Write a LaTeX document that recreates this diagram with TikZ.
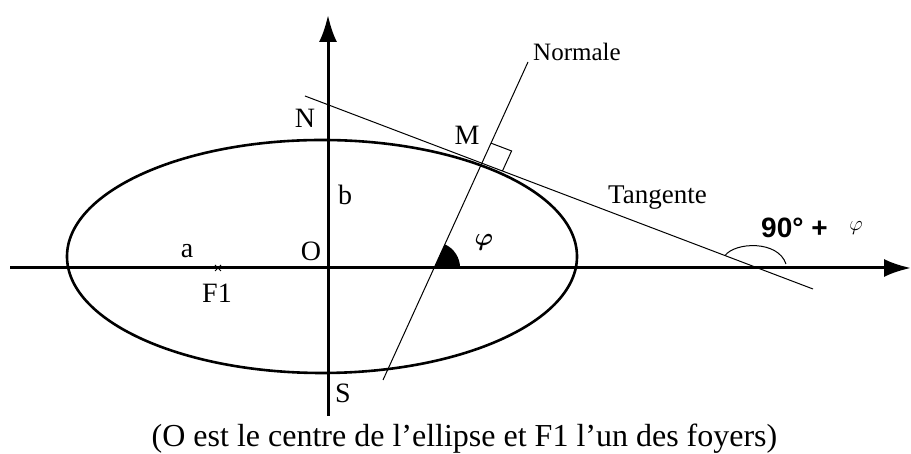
\documentclass[tikz,border=0pt]{standalone}
\usepackage{fontspec}
\usepackage{amsmath}
\setmainfont{Liberation Serif}
\newfontfamily\etiketSans{Liberation Sans}
\usetikzlibrary{arrows.meta,calc,positioning}

\begin{document}
\begin{tikzpicture}[x=1pt, y=1pt, every node/.style={font=\fontsize{28}{32}\selectfont, inner sep=0pt},
  eksen/.style={line width=3pt, -{Latex[length=27pt,width=18pt]}},
  ince/.style={line width=1pt}]
\useasboundingbox (0,0) rectangle (911,454);
\coordinate (xL) at (10,186); \coordinate (xR) at (911,186);
\coordinate (yB) at (328,38); \coordinate (yT) at (328,439);
\coordinate (nB) at (383,74); \coordinate (nT) at (528,392);
\coordinate (tL) at (305,358); \coordinate (tR) at (813,165);
\coordinate (M) at (intersection of nB--nT and tL--tR);
\coordinate (P) at (intersection of nB--nT and xL--xR);
\coordinate (Q) at (intersection of tL--tR and xL--xR);
\draw[eksen] (xL) -- (xR);
\draw[eksen] (yB) -- (yT);
\draw[line width=2.6pt] (322,197.5) ellipse [x radius=255pt, y radius=116.5pt];
\draw[ince] (nB) -- (nT);
\draw[ince] (tL) -- (tR);
\coordinate (rA) at ($(M)!22pt!(nT)$); \coordinate (rC) at ($(M)!22pt!(tR)$);
\coordinate (rB) at ($(rA)+(rC)-(M)$);
\draw[ince] (rA) -- (rB) -- (rC);
\fill (P) -- ($(P)+(26,0)$) arc[start angle=0, end angle=65.5, radius=26pt] -- cycle;
\coordinate (aA) at ($(Q)!35pt!(tL)$); \coordinate (aB) at (786,190);
\draw[ince] (aA) .. controls (735,212) and (778,214) .. (aB);
\coordinate (F) at (218,186);
\draw[ince] ($(F)+(-3,-3)$) -- ($(F)+(3,3)$) ($(F)+(-3,3)$) -- ($(F)+(3,-3)$);
\node (Nlab) at (305,336) {N};
\node (Mlab) at (467,319) {M};
\node (blab) at (345,259) {b};
\node (Olab) at (311,203) {O};
\node (alab) at (187,203) {a};
\node (Flab) at (217,161) {F1};
\node (Slab) at (343,61) {S};
\node[anchor=base west, font=\fontsize{25}{30}\selectfont] (normLab) at (533,393) {Normale};
\node[anchor=base west, font=\fontsize{27}{30}\selectfont] (tanLab) at (608,250) {Tangente};
\node (phiLab) at (484,212) {\fontsize{38}{42}\selectfont$\boldsymbol{\varphi}$};
\node[anchor=base west, font=\etiketSans\bfseries\fontsize{28}{32}\selectfont] (aciLab) at (761,216) {90° +};
\node (phiB) at (856,226) {\fontsize{22}{26}\selectfont$\varphi$};
\node[anchor=base, font=\fontsize{32}{38}\selectfont] (yazi) at (464.5,7) {(O est le centre de l’ellipse et F1 l’un des foyers)};
\end{tikzpicture}
\end{document}
